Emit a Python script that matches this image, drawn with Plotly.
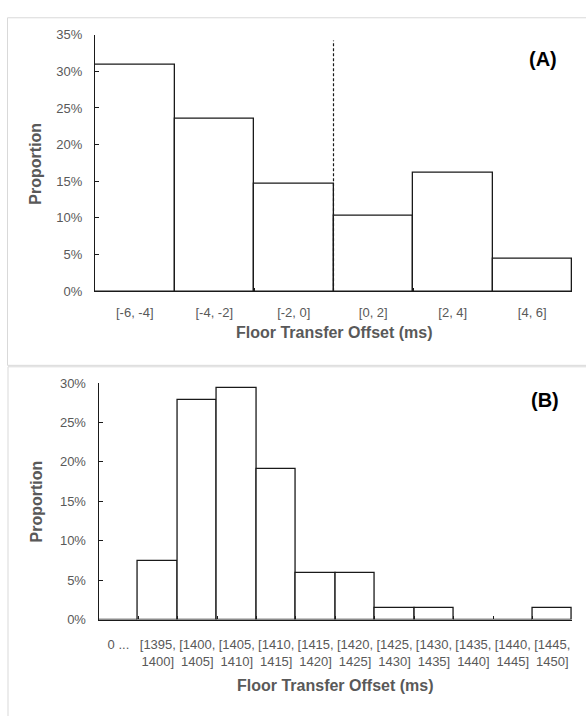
import plotly.graph_objects as go

# ---------------- data ----------------
cats_a = ["[-6, -4]", "[-4, -2]", "[-2, 0]", "[0, 2]", "[2, 4]", "[4, 6]"]
vals_a = [0.309, 0.235, 0.147, 0.103, 0.162, 0.044]

cats_b = ["0 ...", "[1395,<br>1400]", "[1400,<br>1405]", "[1405,<br>1410]", "[1410,<br>1415]",
          "[1415,<br>1420]", "[1420,<br>1425]", "[1425,<br>1430]", "[1430,<br>1435]",
          "[1435,<br>1440]", "[1440,<br>1445]", "[1445,<br>1450]"]
vals_b = [0.0, 0.074, 0.279, 0.294, 0.191, 0.059, 0.059, 0.015, 0.015, 0.0, 0.0, 0.015]

dash_x = 2.5        # boundary between [-2, 0] and [0, 2]
dash_top = 0.342

x_title = "Floor Transfer Offset (ms)"
y_title = "Proportion"

# ---------------- figure ----------------
W, H = 586, 716
FONT = "Liberation Sans, Arial, sans-serif"
GRAY = "#595959"

def px(x):
    return x / W

def py(y):
    return 1 - y / H

fig = go.Figure()
fig.add_trace(go.Bar(x=cats_a, y=vals_a, xaxis="x", yaxis="y", width=1,
                     marker=dict(color="white", line=dict(color="#1a1a1a", width=1.3)),
                     showlegend=False, hoverinfo="x+y"))
fig.add_trace(go.Bar(x=cats_b, y=vals_b, xaxis="x2", yaxis="y2", width=1,
                     marker=dict(color="white", line=dict(color="#1a1a1a", width=1.3)),
                     showlegend=False, hoverinfo="x+y"))

common_x = dict(type="category", showgrid=False, zeroline=False, showline=True,
                linecolor="#1a1a1a", linewidth=1.3, ticks="inside", ticklen=3,
                tickcolor="#1a1a1a", tickson="boundaries", tickangle=0,
                tickfont=dict(family=FONT, size=13, color=GRAY), fixedrange=True)
common_y = dict(showgrid=False, zeroline=False, showline=True, linecolor="#1a1a1a",
                linewidth=1.3, ticks="inside", ticklen=4, tickcolor="#1a1a1a",
                tickformat=".0%", dtick=0.05,
                tickfont=dict(family=FONT, size=13, color=GRAY), fixedrange=True)

fig.update_layout(
    width=W, height=H, margin=dict(l=0, r=0, t=0, b=0),
    paper_bgcolor="white", plot_bgcolor="white", bargap=0,
    xaxis=dict(common_x, domain=[px(95), px(572)], anchor="y",
               range=[-0.5, len(cats_a) - 0.5], ticklabelstandoff=9),
    yaxis=dict(common_y, domain=[py(290.3), py(28.3)], anchor="x",
               range=[0, 0.35], ticklabelstandoff=9),
    xaxis2=dict(common_x, domain=[px(98.7), px(572)], anchor="y2",
                range=[-0.5, len(cats_b) - 0.5], ticklabelstandoff=13),
    yaxis2=dict(common_y, domain=[py(625.7), py(384)], anchor="x2",
                range=[0, 0.30], ticklabelstandoff=9),
)

# panel borders
fig.add_shape(type="rect", xref="paper", yref="paper",
              x0=px(7.5), x1=px(620), y0=py(366), y1=py(11),
              line=dict(color="#d9d9d9", width=1), layer="below")
fig.add_shape(type="rect", xref="paper", yref="paper",
              x0=px(8), x1=px(620), y0=py(740), y1=py(367.5),
              line=dict(color="#d9d9d9", width=1), layer="below")

# dashed line at zero offset
fig.add_shape(type="line", xref="x", yref="y", x0=dash_x, x1=dash_x, y0=0, y1=dash_top,
              line=dict(color="#1a1a1a", width=1.2, dash="3px,2px"))

# axis titles and panel labels
ann = []
for (xx, yy, txt, ang, size, col) in [
    (333.5, 332.7, x_title, 0, 16, GRAY),
    (335, 693, x_title, 0, 16, GRAY),
    (36, 160, y_title, -90, 16, GRAY),
    (36, 505, y_title, -90, 16, GRAY),
    (543, 53, "(A)", 0, 20, "black"),
    (544.5, 401, "(B)", 0, 20, "black"),
]:
    ann.append(dict(x=px(xx), y=py(yy), xref="paper", yref="paper", text=f"<b>{txt}</b>",
                    showarrow=False, textangle=ang, xanchor="center", yanchor="middle",
                    font=dict(family=FONT, size=size, color=col)))
fig.update_layout(annotations=ann)

fig.write_html("out.html", config={"displayModeBar": False},
               post_script="document.body.style.margin='0';document.body.style.overflow='hidden';")
